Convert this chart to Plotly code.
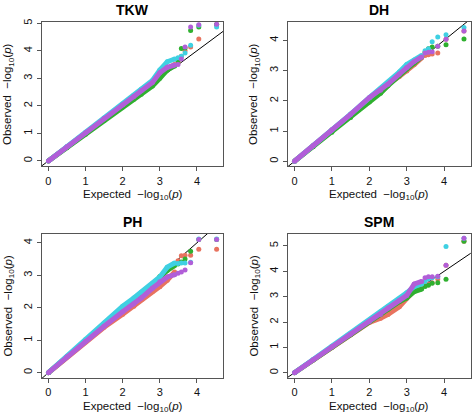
import plotly.graph_objects as go

# ---------------- data ----------------
panels = ["TKW", "DH", "PH", "SPM"]
series_names = ["S1", "S2", "S3", "S4"]
series_colors = ["#E8735F", "#2FB02F", "#3FD0E2", "#B15ED8"]

# expected -log10(p) positions for the dense part of each QQ curve
dense_expected = [0, 0.5, 1.0, 1.5, 2.0, 2.3, 2.5, 2.8, 3.0, 3.2, 3.4]
# expected -log10(p) positions of the top-ranked (sparse) points
tail_expected = [4.53, 4.05, 3.83, 3.68, 3.58, 3.49]

# observed -log10(p), dense part
tkw_dense = [
    [0, 0.50, 1.00, 1.52, 2.02, 2.32, 2.52, 2.80, 3.05, 3.35, 3.50],
    [0, 0.48, 0.97, 1.47, 1.96, 2.24, 2.42, 2.72, 3.00, 3.30, 3.45],
    [0, 0.52, 1.04, 1.56, 2.07, 2.38, 2.60, 2.92, 3.30, 3.60, 3.70],
    [0, 0.51, 1.02, 1.54, 2.04, 2.34, 2.55, 2.85, 3.20, 3.40, 3.48],
]
dh_dense = [
    [0, 0.52, 1.04, 1.55, 2.05, 2.33, 2.55, 2.80, 2.98, 3.20, 3.42],
    [0, 0.48, 0.96, 1.45, 1.96, 2.25, 2.50, 2.85, 3.05, 3.25, 3.45],
    [0, 0.51, 1.03, 1.56, 2.10, 2.40, 2.60, 2.95, 3.20, 3.35, 3.50],
    [0, 0.51, 1.03, 1.55, 2.10, 2.35, 2.55, 2.88, 3.10, 3.30, 3.45],
]
ph_dense = [
    [0, 0.48, 0.95, 1.40, 1.80, 2.05, 2.25, 2.50, 2.65, 2.85, 3.10],
    [0, 0.50, 1.00, 1.50, 2.00, 2.27, 2.45, 2.72, 2.96, 3.15, 3.30],
    [0, 0.51, 1.02, 1.53, 2.05, 2.30, 2.48, 2.75, 2.95, 3.25, 3.38],
    [0, 0.49, 0.97, 1.43, 1.88, 2.12, 2.30, 2.60, 2.80, 2.95, 3.02],
]
spm_dense = [
    [0, 0.50, 1.00, 1.50, 1.98, 2.15, 2.30, 2.60, 2.95, 3.25, 3.40],
    [0, 0.50, 1.00, 1.50, 2.02, 2.30, 2.50, 2.80, 2.95, 3.20, 3.30],
    [0, 0.52, 1.04, 1.56, 2.07, 2.40, 2.60, 2.90, 3.15, 3.40, 3.50],
    [0, 0.51, 1.02, 1.52, 2.02, 2.30, 2.55, 2.85, 3.05, 3.50, 3.60],
]

# observed -log10(p), top-ranked points
tkw_tail = [
    [4.95, 4.43, 4.14, 4.00, 3.80, 3.60],
    [4.95, 4.86, 4.74, 4.10, 4.08, 3.65],
    [4.86, 4.93, 4.20, 3.92, 3.80, 3.75],
    [4.96, 4.94, 4.86, 4.14, 3.70, 3.50],
]
dh_tail = [
    [4.31, 4.03, 3.58, 3.55, 3.52, 3.50],
    [4.04, 3.85, 3.80, 3.78, 3.72, 3.60],
    [4.42, 4.18, 4.11, 3.95, 3.72, 3.65],
    [4.31, 4.03, 3.80, 3.62, 3.60, 3.58],
]
ph_tail = [
    [3.80, 3.80, 3.62, 3.62, 3.60, 3.45],
    [4.10, 4.10, 3.74, 3.50, 3.41, 3.35],
    [4.12, 4.12, 3.40, 3.38, 3.38, 3.36],
    [4.10, 4.10, 3.39, 3.16, 3.10, 3.06],
]
spm_tail = [
    [5.18, 4.24, 3.70, 3.55, 3.50, 3.45],
    [5.18, 3.69, 3.55, 3.53, 3.45, 3.40],
    [5.30, 4.98, 3.78, 3.75, 3.70, 3.60],
    [5.30, 4.24, 3.80, 3.78, 3.78, 3.75],
]

x_ticks = [0, 1, 2, 3, 4]
y_ticks = [[0, 1, 2, 3, 4, 5], [0, 1, 2, 3, 4], [0, 1, 2, 3, 4], [0, 1, 2, 3, 4, 5]]
y_ranges = [[-0.2, 5.04], [-0.17, 4.6], [-0.165, 4.28], [-0.21, 5.48]]
x_range = [-0.181, 4.71]

dense_all = [tkw_dense, dh_dense, ph_dense, spm_dense]
tail_all = [tkw_tail, dh_tail, ph_tail, spm_tail]

# ---------------- layout geometry (px in a 472x414 canvas) ----------------
W, H = 472, 414
boxes = [  # left, right, top, bottom in px
    (41.7, 223.3, 18.3, 164.0),
    (287.7, 470.7, 18.3, 164.0),
    (41.7, 223.3, 232.0, 377.7),
    (287.7, 470.7, 232.0, 377.7),
]

fig = go.Figure()
layout = dict(
    width=W, height=H, margin=dict(l=0, r=0, t=0, b=0),
    paper_bgcolor="white", plot_bgcolor="white", showlegend=False,
    font=dict(family="Liberation Sans, Arial, sans-serif", size=11, color="#111"),
)
annotations = []

for p in range(4):
    sfx = "" if p == 0 else str(p + 1)
    xa, ya = "x" + sfx, "y" + sfx
    # diagonal reference line
    fig.add_trace(go.Scatter(x=[-1, 7], y=[-1, 7], mode="lines",
                             line=dict(color="black", width=1),
                             xaxis=xa, yaxis=ya, hoverinfo="skip"))
    for s in range(4):
        col = series_colors[s]
        fig.add_trace(go.Scatter(x=dense_expected, y=dense_all[p][s], mode="lines+markers",
                                 line=dict(color=col, width=5),
                                 marker=dict(color=col, size=5),
                                 name=series_names[s], xaxis=xa, yaxis=ya))
        fig.add_trace(go.Scatter(x=tail_expected, y=tail_all[p][s], mode="markers",
                                 marker=dict(color=col, size=5),
                                 name=series_names[s], xaxis=xa, yaxis=ya))
    l, r, t, b = boxes[p]
    ax_common = dict(showline=True, mirror=True, linecolor="#555", linewidth=1,
                     ticks="outside", ticklen=4, tickcolor="#555", tickwidth=1,
                     showgrid=False, zeroline=False, tickfont=dict(size=11, color="#111"))
    layout["xaxis" + sfx] = dict(domain=[l / W, r / W], range=x_range, tickvals=x_ticks,
                                 anchor=ya, **ax_common)
    layout["yaxis" + sfx] = dict(domain=[1 - b / H, 1 - t / H], range=y_ranges[p],
                                 tickvals=y_ticks[p], tickangle=-90, anchor=xa, **ax_common)
    cx = (l + r) / 2
    # panel title
    annotations.append(dict(text="<b>" + panels[p] + "</b>", x=cx / W, y=1 - (t - 12) / H,
                            xref="paper", yref="paper", showarrow=False,
                            font=dict(size=14, color="black"), xanchor="center", yanchor="middle"))
    # x-axis title
    annotations.append(dict(text="Expected \u00a0\u2212log<sub>10</sub>(<i>p</i>)", x=cx / W,
                            y=1 - (b + 29) / H, xref="paper", yref="paper", showarrow=False,
                            font=dict(size=11.5, color="#111"), xanchor="center", yanchor="middle"))
    # y-axis title
    annotations.append(dict(text="Observed \u00a0\u2212log<sub>10</sub>(<i>p</i>)", x=(l - 33) / W,
                            y=1 - ((t + b) / 2) / H, xref="paper", yref="paper", showarrow=False,
                            textangle=-90, font=dict(size=11.5, color="#111"),
                            xanchor="center", yanchor="middle"))

layout["annotations"] = annotations
fig.update_layout(**layout)
fig.write_html("out.html", config={"displayModeBar": False},
               post_script="document.body.style.margin='0';document.body.style.padding='0';"
                           "document.documentElement.style.overflow='hidden';")
